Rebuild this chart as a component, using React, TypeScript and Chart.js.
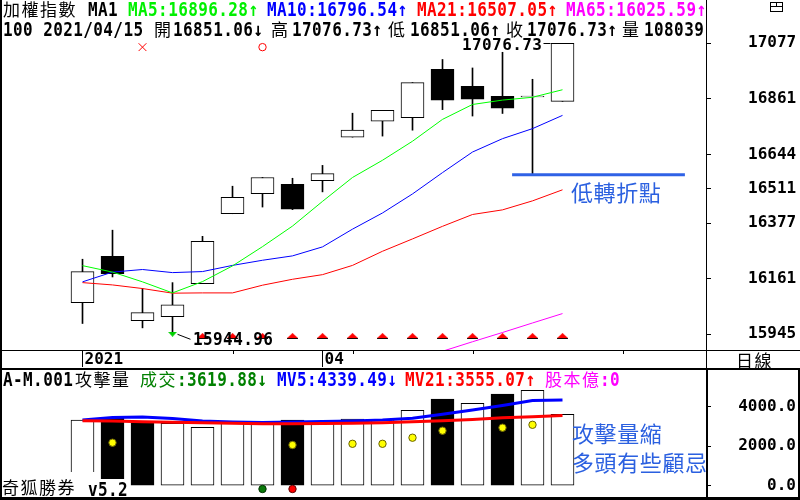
import React, { useEffect, useRef } from "react";
import { Chart, registerables } from "chart.js";

Chart.register(...registerables);

// ---------------- data ----------------
const DAY_INDEX = [0, 1, 2, 3, 4, 5, 6, 7, 8, 9, 10, 11, 12, 13, 14, 15, 16];
const OPEN = [16068, 16248, 15998, 16014, 16142, 16414, 16492, 16528, 16543, 16712, 16774, 16788, 16976, 16910, 16871, 16868, 16851.06];
const HIGH = [16237, 16350, 16123, 16146, 16326, 16521, 16555, 16552, 16602, 16805, 16816, 16924, 17014, 16981, 17042, 16937, 17076.73];
const LOW = [15987, 16168, 15970, 15944.96, 16142, 16414, 16440, 16430, 16499, 16712, 16716, 16739, 16819, 16794, 16804, 16563, 16851.06];
const CLOSE = [16189, 16181, 16029, 16060, 16307, 16478, 16555, 16432, 16570, 16739, 16816, 16924, 16856, 16860, 16825, 16872, 17076.73];

const MA5 = [16212, 16187, 16149, 16106, 16150, 16211, 16286, 16366, 16462, 16555, 16622, 16696, 16781, 16839, 16856, 16867, 16896.28];
const MA10 = [16149, 16187, 16197, 16185, 16189, 16213, 16233, 16250, 16285, 16354, 16417, 16491, 16574, 16654, 16706, 16745, 16796.54];
const MA21 = [16146, 16137, 16123, 16105, 16106, 16106, 16136, 16159, 16177, 16213, 16268, 16316, 16365, 16411, 16429, 16464, 16507.05];
const MA65 = [null, null, null, null, null, null, null, null, null, null, 15805, 15842, 15879, 15916, 15952, 15989, 16025.59];

const PRICE_TICKS = [17077, 16861, 16644, 16511, 16377, 16161, 15945];
const DATE_TICK_INDEX = [0, 8];
const DATE_TICK_LABELS = ["2021", "04"];
const MINOR_DATE_INDEX = [5, 9, 13, 18];

const CROSS_INDEX = [2];
const CIRCLE_INDEX = [6];
const SIGNAL_LEVEL = 17062;
const UP_MARK_INDEX = [4, 5, 6, 7, 8, 9, 10, 11, 12, 13, 14, 15, 16];
const UP_MARK_LEVEL = 15938;
const LOW_MARK_INDEX = [3];
const TURN_LEVEL = 16566;
const TURN_RANGE = [14.32, 20.08];

const VOLUME = [3327, 3463, 3175, 3159, 2957, 3210, 3159, 3327, 3175, 3377, 3362, 3818, 4390, 4172, 4643, 4830, 3619.88];
const VOL_DOWN = [false, true, true, false, false, false, false, true, false, false, false, false, true, false, true, false, false];
const MV5 = [3327, 3453, 3478, 3403, 3280, 3225, 3200, 3225, 3251, 3276, 3327, 3413, 3615, 3833, 4060, 4310, 4339.49];
const MV21 = [3291, 3276, 3241, 3215, 3190, 3159, 3139, 3139, 3149, 3159, 3190, 3241, 3291, 3352, 3443, 3489, 3555.07];
const VOL_TICKS = [0, 2000, 4000];
const DOT_INDEX = [1, 7, 9, 10, 11, 12, 14, 15];
const DOT_VALUE = [2177, 2061, 2122, 2122, 2430, 2785, 2937, 3084];
const GREEN_DOT_INDEX = [6];
const RED_DOT_INDEX = [7];
const BOTTOM_DOT_LEVEL = -167;

// ---------------- layout constants ----------------
const X_MIN = -2.7167;
const X_MAX = 20.7833;
const Y_MAX = 17245.4;
const Y_MIN = 15883.9;
const V_MAX = 5909;
const V_MIN = -572;
const MONO = "'DejaVu Sans Mono', monospace";
const CJK = "'Noto Sans CJK TC', sans-serif";

function makeTriUp() {
  const c = document.createElement("canvas");
  c.width = 11;
  c.height = 6;
  const g = c.getContext("2d")!;
  g.fillStyle = "#ff0000";
  g.beginPath();
  g.moveTo(0, 5);
  g.lineTo(5.5, 0);
  g.lineTo(11, 5);
  g.closePath();
  g.fill();
  g.fillStyle = "#000";
  g.fillRect(0, 5, 11, 1);
  return c;
}
function makeTriDown() {
  const c = document.createElement("canvas");
  c.width = 9;
  c.height = 5;
  const g = c.getContext("2d")!;
  g.fillStyle = "#00d000";
  g.beginPath();
  g.moveTo(0, 0);
  g.lineTo(9, 0);
  g.lineTo(4.5, 5);
  g.closePath();
  g.fill();
  return c;
}

const pts = (idx: number[], vals: (number | null)[]) =>
  idx.map((i, k) => ({ x: i, y: vals[k] })).filter((p) => p.y !== null);

const priceDecor = {
  id: "priceDecor",
  afterDatasetsDraw(chart: any) {
    const { ctx, chartArea } = chart;
    const x = chart.scales.x;
    const y = chart.scales.y;
    ctx.save();
    ctx.strokeStyle = "#000";
    ctx.lineWidth = 1;
    MINOR_DATE_INDEX.forEach((i) => {
      const px = Math.round(x.getPixelForValue(i)) + 0.5;
      ctx.beginPath();
      ctx.moveTo(px, chartArea.bottom);
      ctx.lineTo(px, chartArea.bottom + 4);
      ctx.stroke();
    });
    const li = LOW_MARK_INDEX[0];
    const lx = x.getPixelForValue(li);
    const ly = y.getPixelForValue(LOW[li]);
    ctx.beginPath();
    ctx.moveTo(lx + 5, ly);
    ctx.lineTo(lx + 18, ly + 5);
    ctx.stroke();
    const hi = DAY_INDEX[DAY_INDEX.length - 1];
    const hx = x.getPixelForValue(hi);
    const hy = Math.round(y.getPixelForValue(HIGH[hi])) + 0.5;
    ctx.beginPath();
    ctx.moveTo(hx - 19, hy);
    ctx.lineTo(hx - 12, hy);
    ctx.stroke();
    ctx.restore();
  },
};

type Seg = { x: number; y: number; t: string; c?: string; cjk?: boolean; size?: number; sy?: number; ls?: number };

const GREEN = "#00f000";
const HEAD1: Seg[] = [
  { x: 3, y: 0, t: "加權指數", cjk: true },
  { x: 88, y: -0.5, t: "MA1" },
  { x: 128, y: -0.5, t: "MA5:16896.28↑", c: GREEN },
  { x: 267, y: -0.5, t: "MA10:16796.54↑", c: "#0000ff" },
  { x: 417, y: -0.5, t: "MA21:16507.05↑", c: "#ff0000" },
  { x: 566, y: -0.5, t: "MA65:16025.59↑", c: "#ff00ff" },
];
const HEAD2: Seg[] = [
  { x: 3, y: 19.5, t: "100 2021/04/15" },
  { x: 154, y: 20, t: "開", cjk: true },
  { x: 173, y: 19.5, t: "16851.06↓" },
  { x: 271, y: 20, t: "高", cjk: true },
  { x: 292, y: 19.5, t: "17076.73↑" },
  { x: 388, y: 20, t: "低", cjk: true },
  { x: 410, y: 19.5, t: "16851.06↑" },
  { x: 506, y: 20, t: "收", cjk: true },
  { x: 527, y: 19.5, t: "17076.73↑" },
  { x: 622, y: 20, t: "量", cjk: true },
  { x: 644, y: 19.5, t: "108039" },
];
const VHEAD: Seg[] = [
  { x: 3, y: 370, t: "A-M.001" },
  { x: 75, y: 370, t: "攻擊量", cjk: true },
  { x: 140, y: 370, t: "成交", cjk: true, c: "#008000" },
  { x: 177, y: 370, t: ":3619.88↓", c: "#008000" },
  { x: 277, y: 370, t: "MV5:4339.49↓", c: "#0000ff" },
  { x: 405, y: 370, t: "MV21:3555.07↑", c: "#ff0000" },
  { x: 545, y: 370, t: "股本億", cjk: true, c: "#ff00ff" },
  { x: 600, y: 370, t: ":0", c: "#ff00ff" },
];
const BLUE_NOTE = "#2b60e0";
const NOTES: Seg[] = [
  { x: 462, y: 36.5, t: "17076.73", sy: 1 },
  { x: 193, y: 329.6, t: "15944.96", sy: 1.15 },
  { x: 571, y: 180, t: "低轉折點", cjk: true, size: 22, c: BLUE_NOTE, ls: 0.6 },
  { x: 572, y: 421, t: "攻擊量縮", cjk: true, size: 22, c: BLUE_NOTE, ls: 0.6 },
  { x: 572, y: 450, t: "多頭有些顧忌", cjk: true, size: 22, c: BLUE_NOTE, ls: 0.6 },
  { x: 736, y: 351, t: "日線", cjk: true },
  { x: 2, y: 478, t: "奇狐勝券", cjk: true },
  { x: 88, y: 479.5, t: "v5.2" },
];

function Txt({ s }: { s: Seg }) {
  const size = s.size ?? (s.cjk ? 17 : 16);
  const style: React.CSSProperties = s.cjk
    ? {
        position: "absolute",
        left: s.x,
        top: s.y,
        fontFamily: CJK,
        fontSize: size,
        lineHeight: `${size}px`,
        letterSpacing: `${s.ls ?? 1.5}px`,
        color: s.c ?? "#000",
        whiteSpace: "pre",
      }
    : {
        position: "absolute",
        left: s.x,
        top: s.y,
        fontFamily: MONO,
        fontWeight: "bold",
        fontSize: size,
        lineHeight: `${size}px`,
        letterSpacing: "0.4px",
        color: s.c ?? "#000",
        whiteSpace: "pre",
        transform: `scaleY(${s.sy ?? 1.2})`,
        transformOrigin: "0 0",
      };
  return <span style={style}>{s.t}</span>;
}

const box = (l: number, t: number, w: number, h: number, extra: React.CSSProperties = {}) => (
  <div style={{ position: "absolute", left: l, top: t, width: w, height: h, background: "#000", ...extra }} />
);

export default function App() {
  const priceRef = useRef<HTMLCanvasElement>(null);
  const volRef = useRef<HTMLCanvasElement>(null);

  useEffect(() => {
    const triUp = makeTriUp();
    const triDown = makeTriDown();
    const tickFont = { family: MONO, size: 16, weight: "bold" as const };

    const price = new Chart(priceRef.current!, {
      type: "line",
      data: {
        datasets: [
          {
            type: "bar",
            label: "wick",
            data: DAY_INDEX.map((i) => ({ x: i, y: [LOW[i], HIGH[i]] })) as any,
            backgroundColor: "#000",
            barThickness: 1,
            grouped: false,
            order: 10,
          } as any,
          {
            type: "bar",
            label: "body",
            data: DAY_INDEX.map((i) => ({ x: i, y: [OPEN[i], CLOSE[i]] })) as any,
            backgroundColor: DAY_INDEX.map((i) => (CLOSE[i] >= OPEN[i] ? "#fff" : "#000")),
            borderColor: "#000",
            borderWidth: 1,
            borderSkipped: false,
            barThickness: 23,
            grouped: false,
            order: 9,
          } as any,
          { label: "MA65", data: pts(DAY_INDEX, MA65), borderColor: "#ff00ff", borderWidth: 1, pointRadius: 0, order: 5 },
          { label: "MA21", data: pts(DAY_INDEX, MA21), borderColor: "#ff0000", borderWidth: 1, pointRadius: 0, order: 4 },
          { label: "MA10", data: pts(DAY_INDEX, MA10), borderColor: "#0000ff", borderWidth: 1, pointRadius: 0, order: 3 },
          { label: "MA5", data: pts(DAY_INDEX, MA5), borderColor: "#00ff00", borderWidth: 1, pointRadius: 0, order: 2 },
          {
            label: "turn",
            data: [
              { x: TURN_RANGE[0], y: TURN_LEVEL },
              { x: TURN_RANGE[1], y: TURN_LEVEL },
            ],
            borderColor: "#2f62e6",
            borderWidth: 3,
            pointRadius: 0,
            order: 1,
          },
          {
            label: "cross",
            data: CROSS_INDEX.map((i) => ({ x: i, y: SIGNAL_LEVEL })),
            showLine: false,
            pointStyle: "crossRot",
            pointRadius: 5.5,
            borderColor: "#ff0000",
            borderWidth: 1,
            order: 0,
          },
          {
            label: "circle",
            data: CIRCLE_INDEX.map((i) => ({ x: i, y: SIGNAL_LEVEL })),
            showLine: false,
            pointStyle: "circle",
            pointRadius: 3.7,
            borderColor: "#ff0000",
            backgroundColor: "#fff",
            borderWidth: 1,
            order: 0,
          },
          {
            label: "up marks",
            data: UP_MARK_INDEX.map((i) => ({ x: i, y: UP_MARK_LEVEL })),
            showLine: false,
            pointStyle: triUp as any,
            pointRadius: 5,
            order: 0,
          },
          {
            label: "low mark",
            data: LOW_MARK_INDEX.map((i) => ({ x: i, y: LOW[i] })),
            showLine: false,
            pointStyle: triDown as any,
            pointRadius: 5,
            order: 0,
          },
        ],
      },
      options: {
        animation: false,
        responsive: false,
        events: [],
        layout: { autoPadding: false, padding: { left: 1, right: 0, top: 0, bottom: 0 } },
        plugins: { legend: { display: false }, tooltip: { enabled: false } },
        scales: {
          x: {
            type: "linear",
            min: X_MIN,
            max: X_MAX,
            offset: false,
            position: "bottom",
            border: { display: false },
            grid: { display: true, drawOnChartArea: false, drawTicks: true, tickLength: 17, tickColor: "#000", offset: false },
            ticks: {
              autoSkip: false,
              maxRotation: 0,
              align: "start",
              labelOffset: 2,
              padding: -17,
              color: "#000",
              font: tickFont,
              callback: (_v: any, idx: number) => DATE_TICK_LABELS[idx] ?? "",
            },
            afterBuildTicks: (s: any) => {
              s.ticks = DATE_TICK_INDEX.map((v) => ({ value: v }));
            },
            afterFit: (s: any) => {
              s.height = 19;
              s.paddingLeft = 0;
              s.paddingRight = 0;
            },
          } as any,
          y: {
            type: "linear",
            position: "right",
            min: Y_MIN,
            max: Y_MAX,
            border: { display: false },
            grid: { display: true, drawOnChartArea: false, drawTicks: true, tickLength: 5, tickColor: "#000" },
            ticks: {
              autoSkip: false,
              crossAlign: "near",
              padding: 37,
              color: "#000",
              font: tickFont,
              callback: (v: any) => String(v),
            },
            afterBuildTicks: (s: any) => {
              s.ticks = PRICE_TICKS.map((v) => ({ value: v }));
            },
            afterFit: (s: any) => {
              s.width = 94;
              s.paddingTop = 0;
              s.paddingBottom = 0;
            },
          } as any,
        },
      },
      plugins: [priceDecor],
    } as any);

    const vol = new Chart(volRef.current!, {
      type: "line",
      data: {
        datasets: [
          {
            type: "bar",
            label: "volume",
            data: DAY_INDEX.map((i) => ({ x: i, y: VOLUME[i] })),
            backgroundColor: VOL_DOWN.map((d) => (d ? "#000" : "#fff")),
            borderColor: "#000",
            borderWidth: 1,
            borderSkipped: false,
            barThickness: 23,
            grouped: false,
            order: 10,
          } as any,
          { label: "MV5", data: pts(DAY_INDEX, MV5), borderColor: "#0000ff", borderWidth: 3, pointRadius: 0, order: 3 },
          { label: "MV21", data: pts(DAY_INDEX, MV21), borderColor: "#ff0000", borderWidth: 3, pointRadius: 0, order: 2 },
          {
            label: "dots",
            data: pts(DOT_INDEX, DOT_VALUE),
            showLine: false,
            pointRadius: 3.7,
            backgroundColor: "#ffff00",
            borderColor: "#6b6400",
            borderWidth: 1,
            order: 0,
          },
          {
            label: "green dot",
            data: GREEN_DOT_INDEX.map((i) => ({ x: i, y: BOTTOM_DOT_LEVEL })),
            showLine: false,
            pointRadius: 3.7,
            backgroundColor: "#0a7a0a",
            borderColor: "#003300",
            borderWidth: 1,
            order: 0,
          },
          {
            label: "red dot",
            data: RED_DOT_INDEX.map((i) => ({ x: i, y: BOTTOM_DOT_LEVEL })),
            showLine: false,
            pointRadius: 3.7,
            backgroundColor: "#ff0000",
            borderColor: "#600000",
            borderWidth: 1,
            order: 0,
          },
        ],
      },
      options: {
        animation: false,
        responsive: false,
        events: [],
        layout: { autoPadding: false, padding: { left: 1, right: 4, top: 0, bottom: 3 } },
        plugins: { legend: { display: false }, tooltip: { enabled: false } },
        scales: {
          x: { type: "linear", min: X_MIN, max: X_MAX, offset: false, display: false } as any,
          y: {
            type: "linear",
            position: "right",
            min: V_MIN,
            max: V_MAX,
            border: { display: false },
            grid: { display: true, drawOnChartArea: false, drawTicks: true, tickLength: 5, tickColor: "#000" },
            ticks: {
              autoSkip: false,
              crossAlign: "far",
              padding: 20,
              color: "#000",
              font: tickFont,
              callback: (v: any) => Number(v).toFixed(1),
            },
            afterBuildTicks: (s: any) => {
              s.ticks = VOL_TICKS.map((v) => ({ value: v }));
            },
            afterFit: (s: any) => {
              s.width = 90;
              s.paddingTop = 0;
              s.paddingBottom = 0;
            },
          } as any,
        },
      },
    } as any);

    return () => {
      price.destroy();
      vol.destroy();
    };
  }, []);

  return (
    <div style={{ position: "fixed", left: 0, top: 0, width: 800, height: 500, background: "#fff", overflow: "hidden" }}>
      <canvas ref={priceRef} width={800} height={369} style={{ position: "absolute", left: 0, top: 0 }} />
      <canvas ref={volRef} width={800} height={131} style={{ position: "absolute", left: 0, top: 369 }} />

      {/* frame */}
      {box(0, 0, 2, 500)}
      {box(706, 0, 1, 369)}
      {box(0, 350, 800, 1)}
      {box(0, 368, 800, 2)}
      {box(0, 497, 800, 3)}
      <div
        style={{
          position: "absolute",
          left: 706,
          top: 368,
          width: 94,
          height: 132,
          boxSizing: "border-box",
          border: "2px solid #000",
        }}
      />
      {/* window icon */}
      <div style={{ position: "absolute", left: 770, top: 2, width: 13, height: 10, boxSizing: "border-box", border: "1px solid #000" }} />
      {box(770, 6, 13, 1)}
      {box(776, 2, 1, 5)}

      {/* white boxes behind the watermark */}
      <div style={{ position: "absolute", left: 2, top: 472, width: 94, height: 25, background: "#fff" }} />
      <div style={{ position: "absolute", left: 96, top: 479, width: 32, height: 18, background: "#fff" }} />

      <div style={{ position: "absolute", left: 0, top: 0, width: 706, height: 40, overflow: "hidden" }}>
        {HEAD1.map((s, k) => (
          <Txt key={"h1" + k} s={s} />
        ))}
        {HEAD2.map((s, k) => (
          <Txt key={"h2" + k} s={s} />
        ))}
      </div>
      {VHEAD.map((s, k) => (
        <Txt key={"vh" + k} s={s} />
      ))}
      {NOTES.map((s, k) => (
        <Txt key={"n" + k} s={s} />
      ))}
    </div>
  );
}
